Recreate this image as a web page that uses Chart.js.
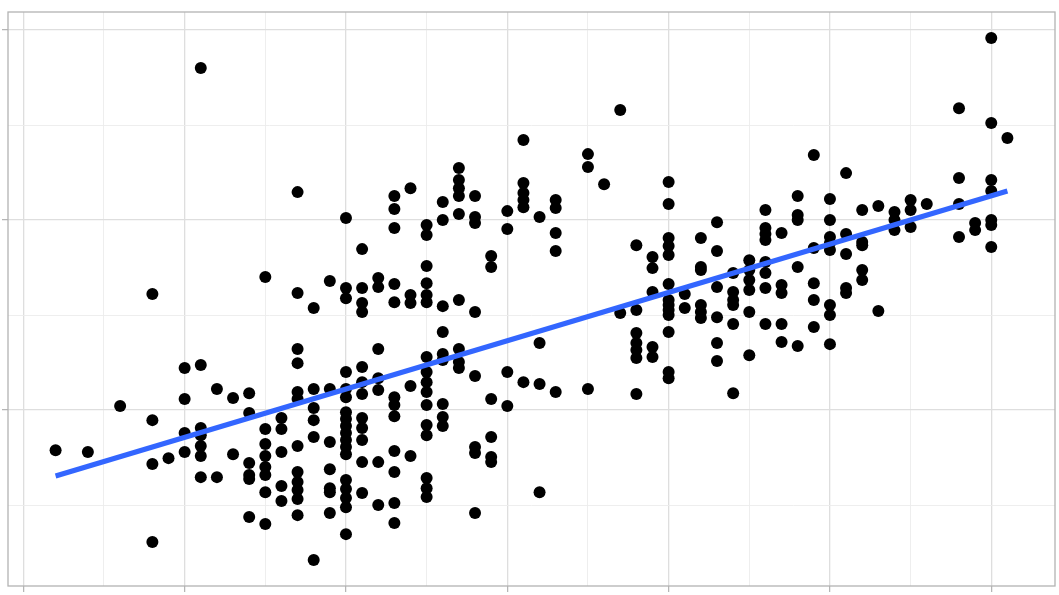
<!DOCTYPE html>
<html>
<head>
<meta charset="utf-8">
<script src="https://cdn.jsdelivr.net/npm/chart.js@4/dist/chart.umd.min.js"></script>
<style>
  html, body { margin: 0; padding: 0; background: #ffffff; }
  #chart { display: block; }
</style>
</head>
<body>
<canvas id="chart" width="1059" height="595"></canvas>
<script>
// scatter values, read column by column
const pointX = [
  2, 4, 6,
  8, 8, 8, 8,
  9,
  10, 10, 10, 10,
  11, 11, 11, 11, 11, 11, 11,
  12, 12,
  13, 13,
  14, 14, 14, 14, 14, 14,
  15, 15, 15, 15, 15, 15, 15, 15,
  16, 16, 16, 16, 16,
  17, 17, 17, 17, 17, 17, 17, 17, 17, 17, 17, 17,
  18, 18, 18, 18, 18, 18,
  19, 19, 19, 19, 19, 19, 19,
  20, 20, 20, 20, 20, 20, 20, 20, 20, 20, 20, 20, 20, 20, 20, 20, 20, 20,
  21, 21, 21, 21, 21, 21, 21, 21, 21, 21, 21, 21,
  22, 22, 22, 22, 22, 22, 22,
  23, 23, 23, 23, 23, 23, 23, 23, 23, 23, 23, 23,
  24, 24, 24, 24, 24,
  25, 25, 25, 25, 25, 25, 25, 25, 25, 25, 25, 25, 25, 25, 25, 25,
  26, 26, 26, 26, 26, 26, 26, 26, 26,
  27, 27, 27, 27, 27, 27, 27, 27, 27,
  28, 28, 28, 28, 28, 28, 28, 28,
  29, 29, 29, 29, 29, 29,
  30, 30, 30, 30,
  31, 31, 31, 31, 31, 31,
  32, 32, 32, 32,
  33, 33, 33, 33, 33,
  35, 35, 35,
  36,
  37, 37,
  38, 38, 38, 38, 38, 38, 38,
  39, 39, 39, 39, 39,
  40, 40, 40, 40, 40, 40, 40, 40, 40, 40, 40, 40, 40,
  41, 41,
  42, 42, 42, 42, 42, 42,
  43, 43, 43, 43, 43, 43,
  44, 44, 44, 44, 44, 44,
  45, 45, 45, 45, 45, 45,
  46, 46, 46, 46, 46, 46, 46, 46,
  47, 47, 47, 47, 47,
  48, 48, 48, 48, 48,
  49, 49, 49, 49, 49,
  50, 50, 50, 50, 50, 50, 50, 50,
  51, 51, 51, 51, 51,
  52, 52, 52, 52, 52,
  53, 53,
  54, 54, 54,
  55, 55, 55,
  56,
  58, 58, 58, 58,
  59, 59,
  60, 60, 60, 60, 60, 60, 60,
  61
];
const pointY = [
  7.89, 7.79, 10.21,
  16.11, 9.47, 7.16, 3.05,
  7.47,
  12.21, 10.58, 8.79, 7.79,
  28.0, 12.37, 9.05, 8.68, 8.11, 7.58, 6.47,
  11.11, 6.47,
  10.63, 7.68,
  10.89, 9.84, 7.21, 6.58, 6.37, 4.37,
  17.0, 9.0, 8.21, 7.58, 7.0, 6.58, 5.68, 4.0,
  9.58, 9.0, 7.79, 6.0, 5.21,
  21.47, 16.16, 13.21, 12.47, 10.95, 10.58, 8.11, 6.74, 6.21, 5.79, 5.32, 4.47,
  15.37, 11.11, 10.11, 9.47, 8.58, 2.11,
  16.79, 11.11, 8.32, 6.89, 5.89, 5.68, 4.58,
  20.11, 16.42, 15.89, 12.0, 11.11, 10.68, 9.89, 9.53, 9.16, 8.79, 8.42, 8.05, 7.68, 6.32, 5.84, 5.37, 4.89, 3.47,
  18.47, 16.42, 15.63, 15.16, 12.26, 11.47, 10.84, 9.58, 9.05, 8.42, 7.26, 5.63,
  16.95, 16.47, 13.21, 11.68, 11.05, 7.26, 5.0,
  21.26, 20.58, 19.58, 16.63, 15.68, 10.68, 10.26, 9.68, 7.84, 6.74, 5.11, 4.05,
  21.68, 16.05, 15.63, 11.26, 7.58,
  19.74, 19.21, 17.58, 16.68, 16.05, 15.68, 12.79, 12.0, 11.47, 10.95, 10.26, 9.21, 8.68, 6.42, 5.89, 5.42,
  20.95, 20.0, 15.47, 14.11, 12.95, 12.63, 10.32, 9.63, 9.16,
  22.74, 22.11, 21.68, 21.26, 20.32, 15.79, 13.21, 12.53, 12.21,
  21.26, 20.16, 19.84, 15.16, 11.79, 8.05, 7.74, 4.58,
  18.11, 17.53, 10.58, 8.58, 7.53, 7.26,
  20.47, 19.53, 12.0, 10.21,
  24.21, 21.95, 21.42, 21.05, 20.68, 11.47,
  20.16, 13.53, 11.37, 5.68,
  21.05, 20.63, 19.32, 18.37, 10.95,
  23.47, 22.79, 11.11,
  21.89,
  25.79, 15.11,
  18.68, 15.26, 14.05, 13.53, 13.16, 12.74, 10.84,
  18.05, 17.47, 16.21, 13.32, 12.79,
  22.0, 20.84, 19.05, 18.63, 18.16, 16.63, 15.79, 15.53, 15.26, 15.0, 14.11, 12.0, 11.68,
  16.11, 15.37,
  19.05, 17.53, 17.37, 15.53, 15.16, 14.84,
  19.89, 18.37, 16.47, 14.89, 13.53, 12.58,
  17.21, 16.21, 15.79, 15.53, 14.53, 10.89,
  17.89, 17.37, 16.84, 16.32, 15.16, 12.89,
  20.53, 19.58, 19.26, 18.95, 17.79, 17.21, 16.42, 14.53,
  19.32, 16.58, 16.16, 14.53, 13.58,
  21.26, 20.26, 20.0, 17.53, 13.37,
  23.42, 18.53, 16.68, 15.79, 14.37,
  21.11, 20.0, 19.11, 18.79, 18.42, 15.53, 15.0, 13.47,
  22.47, 19.26, 18.21, 16.42, 16.16,
  20.53, 18.84, 18.68, 17.37, 16.84,
  20.74, 15.21,
  20.42, 20.0, 19.47,
  21.05, 20.53, 19.63,
  20.84,
  25.89, 22.21, 20.84, 19.11,
  19.84, 19.47,
  29.58, 25.11, 22.11, 21.53, 20.0, 19.74, 18.58,
  24.32
];

// fitted line ends (linear smooth)
const fitX = [2, 61];
const fitY = [6.53, 21.53];

const xTicks = [0, 5, 10, 15, 20, 25, 30, 35, 40, 45, 50, 55, 60];
const yTicks = [5, 10, 15, 20, 25, 30];

const points = pointX.map((x, i) => ({ x: x, y: pointY[i] }));
const fit = fitX.map((x, i) => ({ x: x, y: fitY[i] }));

const isMajor = (v) => Math.abs(v % 10) < 1e-6;

function gridFor() {
  return {
    color: (c) => (isMajor(c.tick.value) ? "#dedede" : "#ececec"),
    lineWidth: (c) => (isMajor(c.tick.value) ? 1.3 : 0.9),
    tickColor: (c) => (isMajor(c.tick.value) ? "#b3b3b3" : "rgba(0,0,0,0)"),
    tickWidth: 1.2,
    tickLength: 6,
    drawTicks: true,
  };
}

// panel border like theme_light
const panelBorder = {
  id: "panelBorder",
  afterDatasetsDraw(chart) {
    const a = chart.chartArea;
    const ctx = chart.ctx;
    ctx.save();
    ctx.strokeStyle = "#b3b3b3";
    ctx.lineWidth = 1.3;
    ctx.strokeRect(a.left, a.top, a.right - a.left, a.bottom - a.top);
    ctx.restore();
  },
};

const ctx = document.getElementById("chart").getContext("2d");
new Chart(ctx, {
  type: "scatter",
  data: {
    datasets: [
      {
        label: "fit",
        data: fit,
        showLine: true,
        borderColor: "#3366ff",
        borderWidth: 5,
        pointRadius: 0,
        fill: false,
        order: 0,
      },
      {
        label: "points",
        data: points,
        backgroundColor: "#000000",
        borderWidth: 0,
        pointRadius: 6,
        order: 1,
      },
    ],
  },
  options: {
    responsive: false,
    animation: false,
    layout: { autoPadding: false, padding: { left: 2, top: 12, right: 4, bottom: 3 } },
    plugins: {
      legend: { display: false },
      tooltip: { enabled: false },
    },
    scales: {
      x: {
        type: "linear",
        min: -0.95,
        max: 63.95,
        afterBuildTicks: (axis) => {
          axis.ticks = xTicks.map((v) => ({ value: v }));
        },
        ticks: { display: false, includeBounds: false },
        grid: gridFor(),
        border: { display: false },
      },
      y: {
        type: "linear",
        min: 0.74,
        max: 30.95,
        afterBuildTicks: (axis) => {
          axis.ticks = yTicks.map((v) => ({ value: v }));
        },
        ticks: { display: false, includeBounds: false },
        grid: gridFor(),
        border: { display: false },
      },
    },
  },
  plugins: [panelBorder],
});
</script>
</body>
</html>
